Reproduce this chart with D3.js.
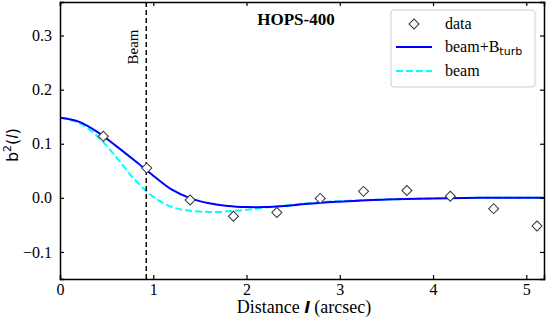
<!DOCTYPE html>
<html>
<head>
<meta charset="utf-8">
<script src="https://cdn.jsdelivr.net/npm/d3@7"></script>
<style>
    body { margin: 0; background: #fff; }
    text { font-family: "Liberation Serif", "Times New Roman", serif; fill: #000; }
    .axis text { font-family: "Liberation Serif", serif; font-size: 16px; }
</style>
</head>
<body>
<div id="chart"></div>
<script>

// data points
var dataX = [0.465, 0.93, 1.395, 1.86, 2.325, 2.79, 3.255, 3.72, 4.185, 4.65, 5.115];
var dataY = [0.114, 0.055, -0.004, -0.034, -0.027, -0.001, 0.012, 0.0135, 0.003, -0.020, -0.052];

// model curves
var curveX = [0, 0.2, 0.4, 0.6, 0.8, 1.0, 1.2, 1.4, 1.6, 1.8, 2.0, 2.2, 2.4, 2.6, 2.8, 3.0, 3.5, 4.0, 4.5, 5.2];
var turbY = [0.148, 0.141, 0.122, 0.096, 0.069, 0.041, 0.015, -0.001, -0.010, -0.015, -0.017, -0.017, -0.015, -0.012, -0.009, -0.007, -0.003, -0.001, 0, 0];
var beamY = [0.148, 0.139, 0.114, 0.076, 0.034, 0.002, -0.017, -0.024, -0.026, -0.025, -0.022, -0.018, -0.014, -0.011, -0.008, -0.006, -0.003, -0.001, 0, 0];

var beamSize = 0.925;

var xTicks = [0, 1, 2, 3, 4, 5];
var yTicks = [-0.1, 0.0, 0.1, 0.2, 0.3];

var margin = {top: 2, right: 2, bottom: 39, left: 60},
    width = 546 - margin.left - margin.right,
    height = 318 - margin.top - margin.bottom;

var svg = d3.select("#chart").append("svg")
    .attr("width", 546)
    .attr("height", 318)
    .append("g")
    .attr("transform", "translate(" + margin.left + "," + margin.top + ")");

var x = d3.scaleLinear().domain([0, 5.19]).range([0, width]);
var y = d3.scaleLinear().domain([-0.15, 0.362]).range([height, 0]);

// curves
var line = d3.line()
    .x(function(d) { return x(d[0]); })
    .y(function(d) { return y(d[1]); })
    .curve(d3.curveCatmullRom);

svg.append("path")
    .datum(d3.zip(curveX, beamY))
    .attr("d", line)
    .attr("fill", "none")
    .attr("stroke", "cyan")
    .attr("stroke-width", 2)
    .attr("stroke-dasharray", "7,3");

svg.append("path")
    .datum(d3.zip(curveX, turbY))
    .attr("d", line)
    .attr("fill", "none")
    .attr("stroke", "blue")
    .attr("stroke-width", 2);

// beam marker
svg.append("line")
    .attr("x1", x(beamSize)).attr("x2", x(beamSize))
    .attr("y1", 0).attr("y2", height)
    .attr("stroke", "#000")
    .attr("stroke-width", 1.5)
    .attr("stroke-dasharray", "5,3");

svg.append("text")
    .attr("transform", "translate(" + (x(beamSize) - 8) + ",45) rotate(-90)")
    .attr("text-anchor", "middle")
    .style("font-size", "15px")
    .text("Beam");

// diamonds
var diamond = d3.symbol().type(d3.symbolSquare).size(50);

svg.selectAll(".pt")
    .data(d3.zip(dataX, dataY))
    .enter().append("path")
    .attr("class", "pt")
    .attr("d", diamond)
    .attr("transform", function(d) { return "translate(" + x(d[0]) + "," + y(d[1]) + ") rotate(45)"; })
    .attr("fill", "#fff")
    .attr("stroke", "#333")
    .attr("stroke-width", 1);

// axes, ticks pointing in
var axBottom = svg.append("g")
    .attr("class", "axis")
    .attr("transform", "translate(0," + height + ")")
    .call(d3.axisBottom(x).tickValues(xTicks).tickSize(-4).tickPadding(5).tickFormat(d3.format("d")));
var axTop = svg.append("g")
    .attr("class", "axis")
    .call(d3.axisTop(x).tickValues(xTicks).tickSize(-4).tickFormat(""));
var axLeft = svg.append("g")
    .attr("class", "axis")
    .call(d3.axisLeft(y).tickValues(yTicks).tickSize(-4).tickPadding(8)
        .tickFormat(function(d) { return d3.format(".1f")(d).replace("-", "\u2212"); }));
var axRight = svg.append("g")
    .attr("class", "axis")
    .attr("transform", "translate(" + width + ",0)")
    .call(d3.axisRight(y).tickValues(yTicks).tickSize(-4).tickFormat(""));

[axBottom, axTop, axLeft, axRight].forEach(function(g) {
    g.attr("font-family", null).attr("font-size", null);
    g.select(".domain").attr("stroke-width", 1.5);
    g.selectAll(".tick line").attr("stroke-width", 1.2);
    g.selectAll("text").attr("fill", "#000");
});

// title
svg.append("text")
    .attr("x", 236)
    .attr("y", 23)
    .attr("text-anchor", "middle")
    .style("font-size", "17px")
    .style("font-weight", "bold")
    .text("HOPS-400");

// axis labels
var xl = svg.append("text")
    .attr("x", width / 2 + 2)
    .attr("y", height + 34)
    .attr("text-anchor", "middle")
    .style("font-size", "18px");
xl.append("tspan").text("Distance ");
xl.append("tspan").style("font-family", "DejaVu Sans").style("font-weight", "bold").style("font-style", "italic")
    .style("font-size", "16px").text("l");
xl.append("tspan").text(" (arcsec)");

var yl = svg.append("text")
    .attr("transform", "translate(-42,143) rotate(-90)")
    .attr("text-anchor", "middle")
    .style("font-family", "DejaVu Sans")
    .style("font-size", "16px");
yl.append("tspan").text("b");
yl.append("tspan").attr("dy", -7).style("font-size", "11px").text("2");
yl.append("tspan").attr("dy", 7).text("(");
yl.append("tspan").style("font-style", "italic").text("l");
yl.append("tspan").text(")");

// legend
var legend = svg.append("g").attr("transform", "translate(331,8)");

legend.append("rect")
    .attr("width", 144)
    .attr("height", 77)
    .attr("rx", 3)
    .attr("fill", "#fff")
    .attr("fill-opacity", 0.8)
    .attr("stroke", "#ccc");

legend.append("path")
    .attr("d", diamond)
    .attr("transform", "translate(23,14) rotate(45)")
    .attr("fill", "#fff")
    .attr("stroke", "#333");

legend.append("line")
    .attr("x1", 5).attr("x2", 41).attr("y1", 37).attr("y2", 37)
    .attr("stroke", "blue").attr("stroke-width", 2);

legend.append("line")
    .attr("x1", 5).attr("x2", 41).attr("y1", 61).attr("y2", 61)
    .attr("stroke", "cyan").attr("stroke-width", 2).attr("stroke-dasharray", "7,3");

legend.append("text").attr("x", 54).attr("y", 19).style("font-size", "16px").text("data");
var lt = legend.append("text").attr("x", 54).attr("y", 42).style("font-size", "16px");
lt.append("tspan").text("beam+B");
lt.append("tspan").attr("dy", 3).style("font-family", "DejaVu Sans").style("font-size", "11px").text("turb");
legend.append("text").attr("x", 54).attr("y", 66).style("font-size", "16px").text("beam");

</script>
</body>
</html>
